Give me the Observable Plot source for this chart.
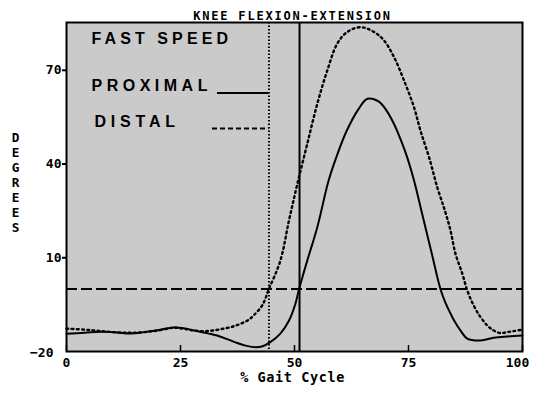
<!DOCTYPE html>
<html><head><meta charset="utf-8">
<script src="https://cdn.jsdelivr.net/npm/d3@7"></script>
<script src="https://cdn.jsdelivr.net/npm/@observablehq/plot@0.6"></script>
<style>
html,body{margin:0;padding:0;background:#fff;}
#wrap{position:relative;width:535px;height:394px;}
#overlay{position:absolute;left:0;top:0;pointer-events:none;}
</style></head><body><div id="wrap"></div>
<script>
const title = "KNEE FLEXION-EXTENSION";
const xLabel = "% Gait Cycle";
const yLabel = "DEGREES";
const legendTitle = "FAST SPEED";
const seriesNames = ["PROXIMAL", "DISTAL"];
const xTicks = [0, 25, 50, 75, 100];
const yTicks = [-20, 10, 40, 70];

const proximalX = [0,4,7.5,11,14,17,20,23.5,26,28,31,33,35.5,37.5,39.5,41.5,43,44.7,46.9,48.8,50.2,51,52.8,55,57.5,59.5,61.5,64,66,68.5,70,71.8,73.5,74.7,76.2,78,80,82,83,84.2,85,86.5,87.9,90.8,93.7,96.6,100];
const proximalDeg = [-14.3,-14.0,-13.7,-13.9,-14.2,-13.8,-13.2,-12.3,-12.6,-13.3,-14.2,-14.9,-16.2,-17.3,-18.2,-18.6,-18.3,-17,-14.3,-10.1,-4.7,0,9.1,19.8,34.8,43.5,50.8,57.5,60.9,60,57.5,52.9,47,42.2,34.8,24,12,0,-4,-7.8,-10.1,-13.5,-15.9,-16.5,-15.6,-15.2,-14.9];

const distalX = [0,4,7,10.3,14,17,20,23.5,26,28,30,32,34.4,36.5,38.2,40,41,42.9,44.4,46.9,48.8,50.6,52.8,55,57.2,59.4,61.6,64.5,67.4,69.6,71.8,74,76.2,77.6,79.5,81.3,83,84.2,85.3,86.8,87.9,89.3,90.8,92.3,93.7,95.2,96.6,98,100];
const distalDeg = [-12.7,-13.0,-13.4,-13.8,-14.0,-13.8,-13.3,-12.4,-12.8,-13.3,-13.5,-13.3,-12.7,-12.0,-11.1,-9.8,-8.5,-5.3,0,9.1,22,33.5,46.5,59.3,70,78.6,82.3,83.8,82.3,79.6,74.3,66.8,58.2,50.8,42.2,32.6,25,18.8,11.3,4.9,-0.5,-5.3,-9,-11.7,-13.3,-14.1,-13.8,-13.5,-13];

const zeroLine = [0];
const distalMarker = [44.4];
const proximalMarker = [51.1];

const proximal = proximalX.map((x, i) => ({x, y: proximalDeg[i]}));
const distal = distalX.map((x, i) => ({x, y: distalDeg[i]}));

const W = 535, H = 394;
const plot = Plot.plot({
  width: W, height: H,
  marginLeft: 66, marginRight: 13, marginTop: 22, marginBottom: 43,
  x: {domain: [0, 100]},
  y: {domain: [-20, 85.3]},
  axis: null,
  style: {fontFamily: "DejaVu Sans Mono", fontSize: "13px", fontWeight: "bold", color: "black", background: "white", overflow: "visible"},
  marks: [
    Plot.frame({fill: "#cacaca"}),
    Plot.ruleY(zeroLine, {stroke: "black", strokeWidth: 2, strokeDasharray: "11,4"}),
    Plot.ruleX(distalMarker, {stroke: "black", strokeWidth: 2, strokeDasharray: "1.5,2"}),
    Plot.ruleX(proximalMarker, {stroke: "black", strokeWidth: 2}),
    Plot.line(distal, {x: "x", y: "y", stroke: "black", strokeWidth: 2.4, strokeDasharray: "1.8,3.4", curve: "catmull-rom"}),
    Plot.line(proximal, {x: "x", y: "y", stroke: "black", strokeWidth: 2, curve: "catmull-rom"}),
    Plot.ruleX(xTicks, {insetTop: 323, stroke: "black", strokeWidth: 1.5}),
    Plot.axisY(yTicks.filter(d => d !== -20), {tickSize: 4, tickPadding: 1, strokeWidth: 2, label: null, fontSize: 13}),
    Plot.axisY(yTicks.filter(d => d === -20), {tickSize: 0, tickPadding: 13, dy: 1, label: null, fontSize: 13}),
    Plot.axisX(xTicks.filter(d => d !== 100), {tickSize: 0, tickPadding: 6, label: null, fontSize: 13}),
    Plot.axisX(xTicks.filter(d => d === 100), {tickSize: 0, tickPadding: 6, dx: -5, label: null, fontSize: 13}),
    Plot.frame({stroke: "black", strokeWidth: 2}),
    Plot.text([title], {frameAnchor: "top", text: d => d, dx: -2, dy: -6.5, lineAnchor: "middle", fontSize: 12, fontFamily: "DejaVu Sans Mono", fontWeight: "bold"}),
    Plot.text([xLabel], {frameAnchor: "bottom", text: d => d, dx: -2, dy: 26, lineAnchor: "middle", fontSize: 13.5, fontFamily: "DejaVu Sans Mono", fontWeight: "bold"}),
    Plot.text([yLabel], {frameAnchor: "left", text: d => d, dx: -51, dy: -9, lineAnchor: "middle", textAnchor: "middle", fontSize: 12.7, fontFamily: "DejaVu Sans Mono", fontWeight: "bold"}),
    Plot.text([legendTitle], {frameAnchor: "top-left", text: d => d, dx: 25, dy: 16, textAnchor: "start", lineAnchor: "middle", fontSize: 16, fontFamily: "Liberation Sans", fontWeight: "bold"}),
    Plot.text([seriesNames[0]], {frameAnchor: "top-left", text: d => d, dx: 25, dy: 63, textAnchor: "start", lineAnchor: "middle", fontSize: 16, fontFamily: "Liberation Sans", fontWeight: "bold"}),
    Plot.text([seriesNames[1]], {frameAnchor: "top-left", text: d => d, dx: 28, dy: 99, textAnchor: "start", lineAnchor: "middle", fontSize: 16, fontFamily: "Liberation Sans", fontWeight: "bold"})
  ]
});

const spacing = new Map([[title, "1.8px"], [xLabel, "0.6px"], [legendTitle, "4.1px"], [seriesNames[0], "4.5px"], [seriesNames[1], "4.8px"]]);
d3.select(plot).selectAll("text").each(function() {
  const t = this.textContent;
  if (spacing.has(t)) this.style.letterSpacing = spacing.get(t);
  if (t === yLabel) {
    this.style.writingMode = "vertical-rl";
    this.style.textOrientation = "upright";
    this.removeAttribute("dy");
  }
});

const wrap = document.getElementById("wrap");
wrap.appendChild(plot);

// legend line samples, ending at the distal marker line (from the plot's x scale)
const xs = plot.scale("x");
const ns = "http://www.w3.org/2000/svg";
const ov = document.createElementNS(ns, "svg");
ov.setAttribute("id", "overlay");
ov.setAttribute("width", W); ov.setAttribute("height", H);
const xEnd = xs.apply(distalMarker[0]);
const samples = [
  {x1: 217, y: 93, dash: null},
  {x1: 212, y: 128.5, dash: "5,3"}
];
for (const s of samples) {
  const l = document.createElementNS(ns, "line");
  l.setAttribute("x1", s.x1); l.setAttribute("x2", xEnd);
  l.setAttribute("y1", s.y); l.setAttribute("y2", s.y);
  l.setAttribute("stroke", "black"); l.setAttribute("stroke-width", 2);
  if (s.dash) l.setAttribute("stroke-dasharray", s.dash);
  ov.appendChild(l);
}
wrap.appendChild(ov);
</script></body></html>
